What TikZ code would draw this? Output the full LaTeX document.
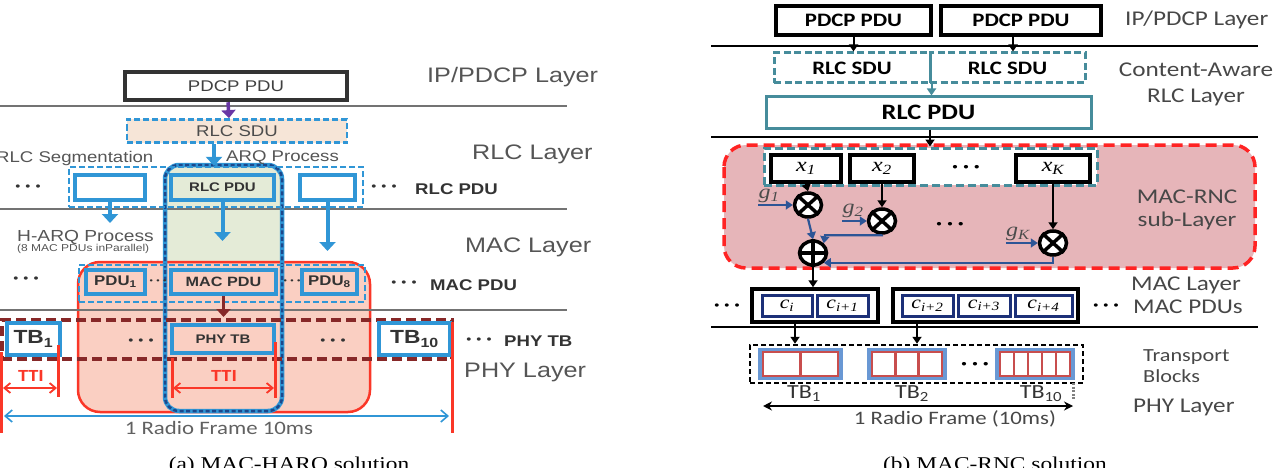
\documentclass[tikz,border=0pt]{standalone}
\usepackage{fontspec}
\usepackage{graphicx}
\setmainfont{Liberation Sans}
\newfontfamily\calfont{Carlito}
\newfontfamily\serfont{Liberation Serif}
\usetikzlibrary{arrows.meta,shapes.geometric}
\definecolor{lblue}{RGB}{48,150,214}
\definecolor{dblue}{RGB}{28,72,140}
\definecolor{arqgreen}{RGB}{228,235,215}
\definecolor{sdupeach}{RGB}{246,229,215}
\definecolor{harqpink}{RGB}{250,207,194}
\definecolor{harqred}{RGB}{250,55,40}
\definecolor{phyred}{RGB}{135,40,40}
\definecolor{pdcppurple}{RGB}{105,55,165}
\definecolor{laygray}{RGB}{85,85,85}
\definecolor{rulegray}{RGB}{115,115,115}
\definecolor{rncteal}{RGB}{70,140,155}
\definecolor{rncpink}{RGB}{230,181,185}
\definecolor{rncred}{RGB}{255,35,35}
\definecolor{rncnavy}{RGB}{28,48,120}
\definecolor{rncsteel}{RGB}{45,85,150}
\definecolor{tbblue}{RGB}{105,152,212}
\definecolor{tbred}{RGB}{200,78,78}
\newcommand{\wtext}[1]{\scalebox{1.2}[1]{#1}}
\newcommand{\fsz}[1]{\fontsize{#1}{#1}\selectfont}
\newcommand{\tridots}[1]{\wtext{\fsz{#1}\textbullet\hspace{0.35em}\textbullet\hspace{0.35em}\textbullet}}
\newcommand{\sym}[2]{{\serfont\itshape #1\textsubscript{#2}}}

\begin{document}
\begin{tikzpicture}[x=1pt,y=-1pt,
  lay/.style={anchor=west,inner sep=0,text=laygray,font=\fsz{21}},
  note/.style={anchor=west,inner sep=0,text=laygray,font=\fsz{15.5}},
  blbl/.style={anchor=west,inner sep=0,text=black!80,font=\bfseries\fsz{15.5}},
  lbox/.style={draw=lblue,line width=4pt,inner sep=0,minimum height=25pt,text=black!80,font=\bfseries\fsz{12.5}},
  lgroup/.style={draw=lblue,line width=2.2pt,dash pattern=on 6pt off 3pt,inner sep=0},
  larrow/.style={lblue,line width=4pt,-{Triangle[length=9pt,width=16pt]}},
  layerline/.style={rulegray,line width=1.5pt},
  tti/.style={harqred,line width=1.8pt,{Straight Barb[length=6pt,width=10pt]}-{Straight Barb[length=6pt,width=10pt]}},
  ttimark/.style={harqred,line width=3pt},
  ttilbl/.style={inner sep=0,text=harqred,font=\calfont\bfseries\fsz{17}},
  rlay/.style={anchor=west,inner sep=0,text=black!72,font=\calfont\fsz{21}},
  rbox/.style={draw=black,line width=3.2pt,inner sep=0,minimum height=29pt,font=\calfont\bfseries\fsz{19}},
  sdubox/.style={draw=rncteal,line width=3pt,dash pattern=on 7pt off 3.5pt,inner sep=0,minimum height=30pt,font=\calfont\bfseries\fsz{19}},
  xbox/.style={draw=black,line width=3.5pt,fill=white,inner sep=0,minimum height=27pt,font=\fsz{20}},
  cbox/.style={draw=rncnavy,line width=3pt,fill=white,inner sep=0,minimum height=21pt,font=\fsz{18}},
  grpbox/.style={draw=black,line width=3.5pt,inner sep=0,minimum height=33pt},
  mult/.style={ellipse,draw,line width=3.5pt,fill=white,minimum width=27pt,minimum height=24pt,inner sep=0},
  glbl/.style={inner sep=0,text=black!70,font=\fsz{20}},
  carrow/.style={black,line width=2pt,-{Triangle[length=7pt,width=9pt]}},
  tarrow/.style={rncteal,line width=2pt,-{Triangle[length=7pt,width=9pt]}},
  sarrow/.style={rncsteel,line width=2.2pt,-{Triangle[length=7pt,width=9pt]}},
  tblbl/.style={inner sep=0,text=black!80,font=\calfont\fsz{20}},
  caption/.style={anchor=base,inner sep=0,font=\serfont\fsz{19.5}}]
\useasboundingbox (0,0) rectangle (1281,468);

% ---------- (a) MAC-HARQ ----------
% ARQ column and H-ARQ region
\fill[arqgreen,rounded corners=14pt] (165,165) rectangle (282,411);
\filldraw[fill=harqpink,draw=harqred,line width=2.5pt,rounded corners=22pt] (78,262) rectangle (370,412);
\foreach \y in {106,209,310}{ \draw[layerline] (0,\y) -- (567,\y); }
\draw[lblue,line width=4.5pt,rounded corners=14pt] (165,165) rectangle (282,411);
\draw[dblue,line width=2.5pt,dash pattern=on 4pt off 2.5pt,rounded corners=14pt] (165,165) rectangle (282,411);

% PDCP / RLC
\node[draw=black!80,line width=4.5pt,minimum width=222pt,minimum height=28pt,inner sep=0,text=black!75,font=\fsz{15.5}] (pdcp) at (236,86) {\wtext{PDCP PDU}};
\node[lgroup,fill=sdupeach,line width=2.8pt,minimum width=220pt,minimum height=23pt,text=black!70,font=\fsz{15.5}] (sdu) at (237,131) {\wtext{RLC SDU}};
\draw[pdcppurple,line width=3.5pt,-{Triangle[length=8pt,width=14pt]}] ([xshift=-8pt]pdcp.south) -- ([xshift=-8pt]sdu.north);
\node[note] (seg) at (-4,158) {\wtext{RLC Segmentation}};
\node[note] (arq) at (226,158) {\wtext{ARQ Process}};
\node[lgroup,minimum width=294pt,minimum height=40pt] (rlcgrp) at (216,187) {};
\draw[larrow] ([xshift=-23pt]sdu.south) -- ([xshift=-23pt]sdu.south |- rlcgrp.north);
\node[lbox,fill=white,minimum width=70pt] (rlca) at (110,187.5) {};
\node[lbox,fill=arqgreen,minimum width=103pt] (rlcb) at (222.5,187.5) {\wtext{RLC PDU}};
\node[lbox,fill=white,minimum width=55pt] (rlcc) at (327.5,187.5) {};
\node[inner sep=0,text=black!80] (rlcdl) at (28,188) {\tridots{12}};
\node[inner sep=0,text=black!80] (rlcdr) at (384,188) {\tridots{12}};
\node[blbl] (rlclbl) at (415,189) {\wtext{RLC PDU}};

% MAC
\coordinate (harqa) at (110,223);
\coordinate (harqb) at (222.5,241);
\coordinate (harqc) at (327.5,251);
\draw[larrow] (rlca.south) -- (harqa);
\draw[larrow] (rlcb.south) -- (harqb);
\draw[larrow] (rlcc.south) -- (harqc);
\node[note,font=\fsz{16}] (harq) at (17,237) {\wtext{H-ARQ Process}};
\node[note,font=\fsz{10}] (harqn) at (17,249) {\wtext{(8 MAC PDUs inParallel)}};
\node[lgroup,minimum width=286pt,minimum height=37pt] (macgrp) at (222,283.5) {};
\node[lbox,minimum width=59pt,minimum height=24pt,font=\bfseries\fsz{14}] (pdu1) at (115.5,282) {\wtext{PDU\textsubscript{1}}};
\node[lbox,minimum width=105pt,minimum height=24pt,font=\bfseries\fsz{13.5}] (macpdu) at (223.5,282) {\wtext{MAC PDU}};
\node[lbox,minimum width=55pt,minimum height=24pt,font=\bfseries\fsz{14}] (pdu8) at (329.5,282) {\wtext{PDU\textsubscript{8}}};
\node[inner sep=0,text=black!80] (macd1) at (158,282) {\tridots{8}};
\node[inner sep=0,text=black!80] (macd2) at (292,282) {\tridots{8}};
\node[inner sep=0,text=black!80] (macdl) at (26,280) {\tridots{12}};
\node[inner sep=0,text=black!80] (macdr) at (404,284) {\tridots{12}};
\node[blbl] (maclbl) at (430,285) {\wtext{MAC PDU}};

% PHY
\node[draw=phyred,line width=4pt,dash pattern=on 10pt off 5pt,minimum width=450pt,minimum height=39pt,inner sep=0] (phygrp) at (227,339.5) {};
\coordinate (phyin) at (223.5,317);
\draw[phyred,line width=3.5pt,-{Triangle[length=8pt,width=14pt]}] (macpdu.south) -- (phyin);
\node[lbox,fill=white,minimum width=53pt,minimum height=32pt,font=\bfseries\fsz{19}] (tb1) at (33.5,339) {\wtext{TB\textsubscript{1}}};
\node[lbox,minimum width=102pt,minimum height=28pt] (phytb) at (223,339) {\wtext{PHY TB}};
\node[lbox,fill=white,minimum width=71pt,minimum height=32pt,font=\bfseries\fsz{19}] (tb10) at (414.5,339) {\wtext{TB\textsubscript{10}}};
\node[inner sep=0,text=black!80] (phyd1) at (141,342) {\tridots{12}};
\node[inner sep=0,text=black!80] (phyd2) at (333,342) {\tridots{12}};
\node[inner sep=0,text=black!80] (phydr) at (479,341) {\tridots{12}};
\node[blbl] (phylbl) at (504,341) {\wtext{PHY TB}};

% TTI and radio frame
\draw[ttimark] (1.5,352) -- (1.5,433);
\draw[ttimark] (58,345) -- (58,397);
\draw[ttimark] (172,358) -- (172,398);
\draw[ttimark] (275,342) -- (275,398);
\draw[ttimark] (452,322) -- (452,433);
\draw[tti] (3,388) -- (57,388);
\draw[tti] (173,388) -- (274,388);
\node[ttilbl] (ttia) at (31,376) {\wtext{TTI}};
\node[ttilbl] (ttib) at (224,376) {\wtext{TTI}};
\draw[lblue,line width=1.6pt,{Straight Barb[length=7pt,width=12pt]}-{Straight Barb[length=7pt,width=12pt]}] (4,416) -- (449,416);
\node[inner sep=0,text=black!62,font=\calfont\fsz{19}] (framea) at (219,428) {\wtext{1 Radio Frame 10ms}};

% layer names
\node[lay] (laya) at (427,77) {\wtext{IP/PDCP Layer}};
\node[lay] (layb) at (472,154) {\wtext{RLC Layer}};
\node[lay] (layc) at (465,247) {\wtext{MAC Layer}};
\node[lay] (layd) at (464,372) {\wtext{PHY Layer}};
\node[caption] (capa) at (289,470) {\wtext{(a) MAC-HARQ solution}};

% ---------- (b) MAC-RNC ----------
\filldraw[fill=rncpink,draw=rncred,line width=3.5pt,dash pattern=on 11pt off 6pt,rounded corners=22pt] (724,145) rectangle (1255,268);
\foreach \y in {46,137,327}{ \draw[black,line width=2.5pt] (711,\y) -- (1258,\y); }

% PDCP / RLC
\node[rbox,minimum width=155pt] (pdcpa) at (853.5,20.5) {\wtext{PDCP PDU}};
\node[rbox,minimum width=160pt] (pdcpb) at (1021,20.5) {\wtext{PDCP PDU}};
\node[sdubox,minimum width=156pt] (sdua) at (852,68) {\wtext{RLC SDU}};
\node[sdubox,minimum width=155pt] (sdub) at (1007.5,68) {\wtext{RLC SDU}};
\draw[carrow] (pdcpa.south) -- (pdcpa.south |- sdua.north);
\draw[carrow] ([xshift=-8pt]pdcpb.south) -- ([xshift=-8pt]pdcpb.south |- sdub.north);
\node[draw=rncteal,line width=3pt,minimum width=325pt,minimum height=31pt,inner sep=0,font=\calfont\bfseries\fsz{22}] (rlcpdu) at (928.5,112.5) {\wtext{RLC PDU}};
\draw[tarrow] (sdua.south east) -- (sdua.south east |- rlcpdu.north);

% MAC-RNC sub-layer
\node[draw=rncteal,line width=3pt,dash pattern=on 8pt off 4pt,fill=white,minimum width=333pt,minimum height=37pt,inner sep=0] (xgrp) at (930.5,166.5) {};
\draw[carrow] ([xshift=1.5pt]rlcpdu.south) -- ([xshift=1.5pt]rlcpdu.south |- xgrp.north);
\node[xbox,minimum width=70pt] (xa) at (806,168.5) {\wtext{\sym{x}{1}}};
\node[xbox,minimum width=64pt] (xb) at (882,168.5) {\wtext{\sym{x}{2}}};
\node[xbox,minimum width=74pt] (xk) at (1053,168.5) {\wtext{\sym{x}{K}}};
\node[inner sep=0] (xdots) at (966,168) {\tridots{13}};
\node[mult] (ma) at (808,205) {};
\node[mult] (mb) at (882,221) {};
\node[mult] (mk) at (1053,243) {};
\node[mult] (add) at (813,253) {};
\foreach \m in {ma,mb,mk}{ \draw[line width=3.5pt] (\m.north east) -- (\m.south west) (\m.north west) -- (\m.south east); }
\draw[line width=3.5pt] (add.north) -- (add.south) (add.west) -- (add.east);
\draw[carrow] (xa.south) -- (ma.north);
\draw[carrow] (xb.south) -- (mb.north);
\draw[carrow] (xk.south) -- (mk.north);
\node[glbl] (ga) at (769,196) {\wtext{\sym{g}{1}}};
\node[glbl] (gb) at (853,211) {\wtext{\sym{g}{2}}};
\node[glbl] (gk) at (1018,234) {\wtext{\sym{g}{K}}};
\draw[sarrow] (ga.south west |- ma.west) -- (ma.west);
\draw[sarrow] (gb.south west |- mb.west) -- (mb.west);
\draw[sarrow] (gk.south west |- mk.west) -- (mk.west);
\draw[sarrow] (ma.south) -- (add.north);
\draw[sarrow] (mb.south) |- ([xshift=12pt,yshift=4pt]add.north) -- (add.north east);
\draw[sarrow] (mk.south) |- (add.south east);
\node[inner sep=0] (mdots) at (950,225) {\tridots{13}};
\node[rlay,anchor=center,align=center,font=\calfont\fsz{21}] (rnclbl) at (1187,210) {\wtext{MAC-RNC}\\[2pt]\wtext{sub-Layer}};

% MAC PDUs
\node[grpbox,minimum width=126pt] (grpa) at (815,305.5) {};
\node[grpbox,minimum width=185pt] (grpb) at (985.5,305.5) {};
\node[cbox,minimum width=50pt] (ci) at (787,305.5) {\wtext{\sym{c}{i}}};
\node[cbox,minimum width=51pt] (cia) at (842.5,305.5) {\wtext{\sym{c}{i+1}}};
\node[cbox,minimum width=51pt] (cib) at (927.5,305.5) {\wtext{\sym{c}{i+2}}};
\node[cbox,minimum width=52pt] (cic) at (984,305.5) {\wtext{\sym{c}{i+3}}};
\node[cbox,minimum width=57pt] (cid) at (1043.5,305.5) {\wtext{\sym{c}{i+4}}};
\draw[carrow] (add.south) -- (add.south |- grpa.north);
\node[inner sep=0] (cdl) at (727,307) {\tridots{12}};
\node[inner sep=0] (cdr) at (1106,307) {\tridots{12}};

% transport blocks
\node[draw=black,line width=2.5pt,dash pattern=on 5pt off 3pt,minimum width=333pt,minimum height=38pt,inner sep=0] (tbgrp) at (916.5,364) {};
\draw[carrow] ([xshift=-20pt]grpa.south) -- ([xshift=-20pt]grpa.south |- tbgrp.north);
\draw[carrow] ([xshift=-68.5pt]grpb.south) -- ([xshift=-68.5pt]grpb.south |- tbgrp.north);
\foreach \l/\r/\k in {758/843/2,867/947/3,995/1075/5}{
  \fill[tbblue] (\l,348) rectangle (\r,380);
  \pgfmathsetmacro\cw{(\r-\l-10)/\k}
  \foreach \i in {1,...,\k}{
    \filldraw[fill=white,draw=tbred,line width=2.8pt] (\l+5+\cw*\i-\cw,352) rectangle (\l+5+\cw*\i,376);
  }
}
\node[inner sep=0] (tbdots) at (975,365) {\tridots{13}};
\node[tblbl] (tbla) at (804,394) {\wtext{TB\textsubscript{1}}};
\node[tblbl] (tblb) at (912,394) {\wtext{TB\textsubscript{2}}};
\node[tblbl] (tblk) at (1041,394) {\wtext{TB\textsubscript{10}}};
\draw[gray,line width=3pt,dash pattern=on 2pt off 1.5pt] (1073,383) -- (1073,400);
\draw[black,line width=2pt,{Stealth[length=9pt,width=9pt]}-{Stealth[length=9pt,width=9pt]}] (763,406) -- (1073,406);
\node[inner sep=0,text=black!72,font=\calfont\fsz{19}] (frameb) at (955,419) {\wtext{1 Radio Frame (10ms)}};

% layer names
\node[rlay] (rlaya) at (1125,20) {\wtext{IP/PDCP Layer}};
\node[rlay,anchor=center,align=center] (rlayb) at (1196,84) {\wtext{Content-Aware}\\[5pt]\wtext{RLC Layer}};
\node[rlay] (rlayc) at (1131,285) {\wtext{MAC Layer}};
\node[rlay] (rlayd) at (1133,307) {\wtext{MAC PDUs}};
\node[rlay,align=left,font=\calfont\fsz{18.5}] (rlaye) at (1143,366) {\wtext{Transport}\\[2pt]\wtext{Blocks}};
\node[rlay] (rlayf) at (1133,407) {\wtext{PHY Layer}};
\node[caption] (capb) at (995,470) {\wtext{(b) MAC-RNC solution}};
\end{tikzpicture}
\end{document}
